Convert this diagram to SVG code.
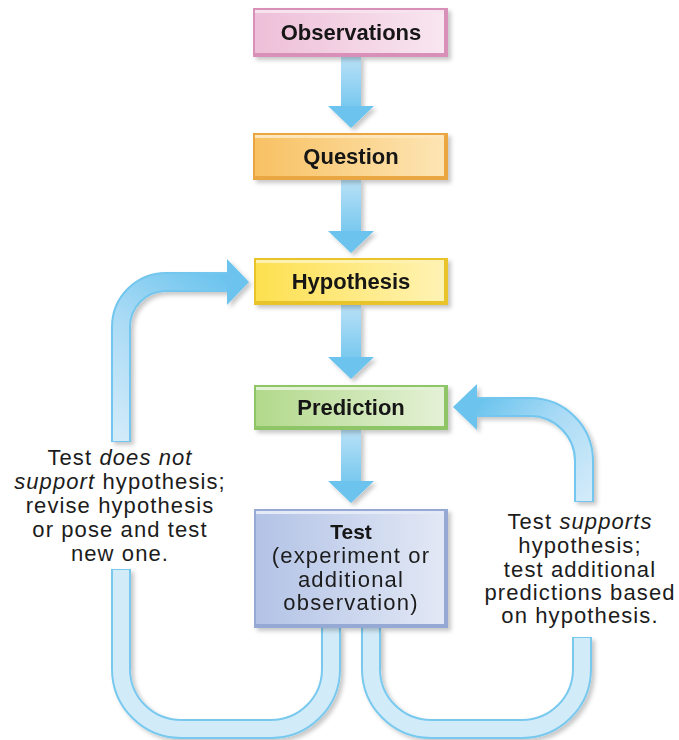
<svg xmlns="http://www.w3.org/2000/svg" width="679" height="740" viewBox="0 0 679 740">
<defs>
  <style>
    .lbl{font-family:"Liberation Sans",Arial,sans-serif;font-size:22px;font-weight:bold;fill:#141414;text-anchor:middle}
    .note{font-family:"Liberation Sans",Arial,sans-serif;font-size:22px;fill:#1c1c1c;text-anchor:middle;letter-spacing:1.1px}
    .tb{font-family:"Liberation Sans",Arial,sans-serif;font-size:22px;fill:#1c1c1c;text-anchor:middle;letter-spacing:1.2px}
    .head{fill:#6cc4ee}
    .tubeO{fill:none;stroke:#79c9ef;stroke-width:20}
    .tubeI{fill:none;stroke:#d2ebf9;stroke-width:16}
  </style>
  <filter id="sh" x="-10%" y="-10%" width="130%" height="140%">
    <feDropShadow dx="3" dy="3" stdDeviation="2" flood-color="#000" flood-opacity="0.22"/>
  </filter>
  <linearGradient id="gObs" x1="0" x2="1" y1="0" y2="0"><stop offset="0" stop-color="#eebfd8"/><stop offset="1" stop-color="#f8e6f0"/></linearGradient>
  <linearGradient id="gQue" x1="0" x2="1" y1="0" y2="0"><stop offset="0" stop-color="#f8c163"/><stop offset="1" stop-color="#fde5b4"/></linearGradient>
  <linearGradient id="gHyp" x1="0" x2="1" y1="0" y2="0"><stop offset="0" stop-color="#fde04f"/><stop offset="1" stop-color="#fff3b4"/></linearGradient>
  <linearGradient id="gPre" x1="0" x2="1" y1="0" y2="0"><stop offset="0" stop-color="#b2d98b"/><stop offset="1" stop-color="#e4f1d6"/></linearGradient>
  <linearGradient id="gTes" x1="0" x2="1" y1="0" y2="0"><stop offset="0" stop-color="#b3c3e6"/><stop offset="1" stop-color="#e2e8f5"/></linearGradient>
  <linearGradient id="gShaft" x1="0" x2="0" y1="0" y2="1"><stop offset="0" stop-color="#b9e1f7"/><stop offset="1" stop-color="#78c8ef"/></linearGradient>
  <linearGradient id="gL" gradientUnits="userSpaceOnUse" x1="121" y1="440" x2="228" y2="282"><stop offset="0" stop-color="#d2ebf9"/><stop offset="0.55" stop-color="#a8daf5"/><stop offset="1" stop-color="#6cc4ee"/></linearGradient>
  <linearGradient id="gR" gradientUnits="userSpaceOnUse" x1="584" y1="502" x2="477" y2="407"><stop offset="0" stop-color="#d2ebf9"/><stop offset="0.55" stop-color="#a8daf5"/><stop offset="1" stop-color="#6cc4ee"/></linearGradient>
</defs>

<g id="connectors">
  <g filter="url(#sh)">
    <rect x="341" y="57" width="20" height="50" fill="url(#gShaft)"/>
    <polygon class="head" points="328,106 374,106 351,128"/>
    <rect x="341" y="180" width="20" height="52" fill="url(#gShaft)"/>
    <polygon class="head" points="328,231 374,231 351,253"/>
    <rect x="341" y="305" width="20" height="53" fill="url(#gShaft)"/>
    <polygon class="head" points="328,357 374,357 351,379"/>
    <rect x="341" y="430" width="20" height="52" fill="url(#gShaft)"/>
    <polygon class="head" points="328,481 374,481 351,503"/>
  </g>
  <g filter="url(#sh)">
    <path d="M121,442 L121,327 A45,45 0 0 1 166,282 L228,282" fill="none" stroke="#73c6ee" stroke-width="20"/>
    <path d="M121,441 L121,327 A45,45 0 0 1 166,282 L228,282" fill="none" stroke="url(#gL)" stroke-width="16"/>
    <polygon class="head" points="227,259 249,282 227,305"/>
  </g>
  <g filter="url(#sh)">
    <path d="M584,502 L584,461 A54,54 0 0 0 530,407 L476,407" fill="none" stroke="#73c6ee" stroke-width="20"/>
    <path d="M584,501 L584,461 A54,54 0 0 0 530,407 L476,407" fill="none" stroke="url(#gR)" stroke-width="16"/>
    <polygon class="head" points="477,384 453,407 477,430"/>
  </g>
  <g filter="url(#sh)">
    <path class="tubeO" d="M331,628 L331,669 A60,60 0 0 1 271,729 L181,729 A60,60 0 0 1 121,669 L121,569"/>
    <path class="tubeI" d="M331,628 L331,669 A60,60 0 0 1 271,729 L181,729 A60,60 0 0 1 121,669 L121,570"/>
    <path class="tubeO" d="M371,628 L371,669 A60,60 0 0 0 431,729 L522,729 A60,60 0 0 0 582,669 L582,637"/>
    <path class="tubeI" d="M371,628 L371,669 A60,60 0 0 0 431,729 L522,729 A60,60 0 0 0 582,669 L582,638"/>
  </g>
</g>

<g id="observations" filter="url(#sh)">
  <rect x="253" y="8" width="195" height="49" fill="#d88fb8"/>
  <rect x="255" y="10" width="189" height="43" fill="url(#gObs)"/>
  <rect x="255" y="10" width="189" height="3" fill="#f7e3ee"/>
  <text class="lbl" x="351" y="40">Observations</text>
</g>

<g id="question" filter="url(#sh)">
  <rect x="253" y="133" width="195" height="47" fill="#eaa640"/>
  <rect x="255" y="135" width="189" height="41" fill="url(#gQue)"/>
  <rect x="255" y="135" width="189" height="3" fill="#fde6bb"/>
  <text class="lbl" x="351" y="164">Question</text>
</g>

<g id="hypothesis" filter="url(#sh)">
  <rect x="254" y="258" width="194" height="47" fill="#e9c32a"/>
  <rect x="256" y="260" width="188" height="41" fill="url(#gHyp)"/>
  <rect x="256" y="260" width="188" height="3" fill="#fff2b0"/>
  <text class="lbl" x="351" y="289">Hypothesis</text>
</g>

<g id="prediction" filter="url(#sh)">
  <rect x="254" y="385" width="194" height="45" fill="#8ec566"/>
  <rect x="256" y="387" width="188" height="39" fill="url(#gPre)"/>
  <rect x="256" y="387" width="188" height="3" fill="#e3f1d4"/>
  <text class="lbl" x="351" y="415">Prediction</text>
</g>

<g id="test" filter="url(#sh)">
  <rect x="254" y="509" width="194" height="119" fill="#95a9d4"/>
  <rect x="256" y="511" width="188" height="113" fill="url(#gTes)"/>
  <rect x="256" y="511" width="188" height="3" fill="#e4eaf6"/>
  <text class="lbl" x="351" y="539" style="font-size:21px">Test</text>
  <text class="tb" x="351" y="563">(experiment or</text>
  <text class="tb" x="351" y="587">additional</text>
  <text class="tb" x="351" y="610">observation)</text>
</g>

<g id="note-left">
  <text class="note" x="120" y="465">Test <tspan font-style="italic">does not</tspan></text>
  <text class="note" x="120" y="489"><tspan font-style="italic">support</tspan> hypothesis;</text>
  <text class="note" x="120" y="513">revise hypothesis</text>
  <text class="note" x="120" y="537">or pose and test</text>
  <text class="note" x="120" y="561">new one.</text>
</g>

<g id="note-right">
  <text class="note" x="580" y="529">Test <tspan font-style="italic">supports</tspan></text>
  <text class="note" x="580" y="553">hypothesis;</text>
  <text class="note" x="580" y="577">test additional</text>
  <text class="note" x="580" y="600">predictions based</text>
  <text class="note" x="580" y="623">on hypothesis.</text>
</g>
</svg>
